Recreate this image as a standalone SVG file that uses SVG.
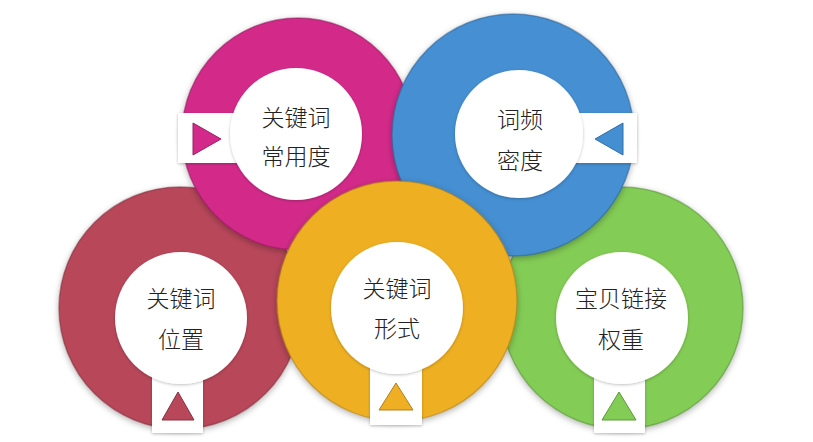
<svg xmlns="http://www.w3.org/2000/svg" width="813" height="442" viewBox="0 0 813 442">
<defs>
<filter id="sh" x="-20%" y="-20%" width="140%" height="140%">
<feDropShadow dx="0" dy="2" stdDeviation="3" flood-color="#000" flood-opacity="0.3"/>
</filter>
<filter id="sh2" x="-20%" y="-20%" width="140%" height="140%">
<feDropShadow dx="0" dy="1" stdDeviation="1.5" flood-color="#000" flood-opacity="0.25"/>
</filter>
</defs>
<style>
.ring{filter:url(#sh);stroke-width:1.5;stroke-opacity:0.5}
.hub{fill:#fff;filter:url(#sh2)}
.tab{fill:#fff;filter:url(#sh2)}
.lbl{font-family:"Noto Sans CJK SC","Noto Sans CJK JP",sans-serif;font-size:23px;font-weight:300;fill:#222;text-anchor:middle;dominant-baseline:central}
</style>
<rect width="813" height="442" fill="#fff"/>
<g id="node-position">
<circle class="ring" cx="180" cy="308" r="121" fill="#B8475A" stroke="#7a2a35"/>
<rect class="tab" x="152" y="340" width="51" height="93"/>
<polygon points="162,420 194,420 178,392" fill="#B8475A" stroke="#8a3040" stroke-width="1"/>
<circle class="hub" cx="181" cy="318" r="66"/>
<text class="lbl" x="181" y="297">关键词</text>
<text class="lbl" x="181" y="338">位置</text>
</g>
<g id="node-link">
<circle class="ring" cx="622" cy="308" r="121" fill="#83CC55" stroke="#4f8a30"/>
<rect class="tab" x="594" y="340" width="51" height="93"/>
<polygon points="602,420 636,420 619,392" fill="#83CC55" stroke="#5a9a38" stroke-width="1"/>
<circle class="hub" cx="622" cy="318" r="66"/>
<text class="lbl" x="621" y="297">宝贝链接</text>
<text class="lbl" x="621" y="338">权重</text>
</g>
<g id="node-usage">
<circle class="ring" cx="298" cy="134" r="116" fill="#D3298A" stroke="#8a1a58"/>
<rect class="tab" x="178" y="113" width="100" height="50"/>
<polygon points="193,123 193,155 221,139" fill="#D3298A" stroke="#9a2065" stroke-width="1"/>
<circle class="hub" cx="296" cy="134" r="66"/>
<text class="lbl" x="296" y="116">关键词</text>
<text class="lbl" x="296" y="155">常用度</text>
</g>
<g id="node-density">
<circle class="ring" cx="513" cy="135" r="121" fill="#448FD2" stroke="#2a5e90"/>
<rect class="tab" x="540" y="113" width="97" height="50"/>
<polygon points="595,139 623,123 623,155" fill="#448FD2" stroke="#2f6ea8" stroke-width="1"/>
<circle class="hub" cx="519" cy="134" r="64"/>
<text class="lbl" x="520" y="118">词频</text>
<text class="lbl" x="520" y="159">密度</text>
</g>
<g id="node-form">
<circle class="ring" cx="397" cy="301" r="120" fill="#EEAF24" stroke="#a57a15"/>
<rect class="tab" x="370" y="335" width="52" height="90"/>
<polygon points="379,410 413,410 396,383" fill="#EEAF24" stroke="#b08020" stroke-width="1"/>
<circle class="hub" cx="397" cy="308" r="66"/>
<text class="lbl" x="397" y="287">关键词</text>
<text class="lbl" x="397" y="327">形式</text>
</g>
<g id="connectors"></g>
</svg>
